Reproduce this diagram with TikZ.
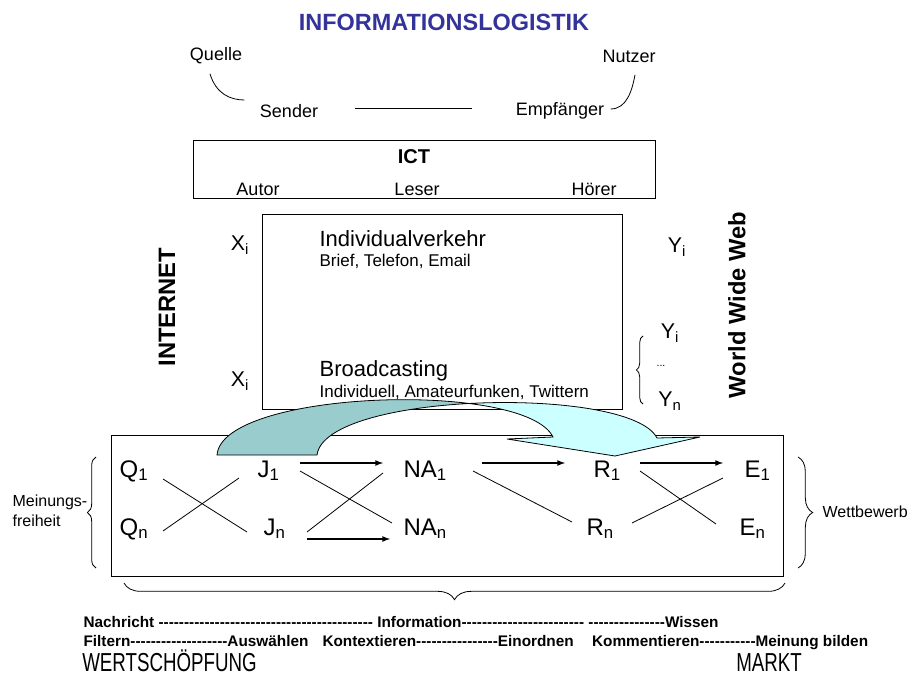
\documentclass[tikz,border=0pt]{standalone}
\usepackage{fontspec}
\setmainfont{Liberation Sans}
\newfontfamily\narrowfont[FakeStretch=0.72]{Liberation Sans}
\usetikzlibrary{arrows}
\usetikzlibrary{calc}
\usetikzlibrary{positioning}
\usetikzlibrary{intersections}
\usetikzlibrary{decorations.pathreplacing}
\definecolor{titleblue}{RGB}{51,51,153}
\definecolor{arrowteal}{RGB}{153,204,204}
\definecolor{arrowcyan}{RGB}{204,255,255}
\newcommand\dashrun[1]{\foreach \k in {1,...,#1}{\mbox{-}}}

\begin{document}
\begin{tikzpicture}[x=0.75pt, y=-0.75pt,
    every node/.style={inner sep=1pt},
    word/.style={font=\fontsize{13.5}{16}\selectfont},
    var/.style={font=\fontsize{16}{19}\selectfont},
    mainword/.style={font=\fontsize{16.5}{19}\selectfont, anchor=base west},
    subword/.style={font=\fontsize{12.75}{15}\selectfont, anchor=base west},
    sym/.style={font=\fontsize{18}{21}\selectfont, anchor=base west},
    side/.style={font=\bfseries\fontsize{17.8}{20}\selectfont, rotate=90},
    note/.style={font=\fontsize{12}{15}\selectfont, align=left},
    footline/.style={font=\bfseries\fontsize{11.5}{14}\selectfont, anchor=base west},
    bigfoot/.style={font=\narrowfont\fontsize{19.5}{23}\selectfont, anchor=base west, inner sep=0pt},
    frame/.style={draw, line width=0.7pt, minimum width=#1},
    link/.style={line width=0.6pt},
    flow/.style={-latex, line width=1pt},
    brace/.style={decorate, decoration={brace, amplitude=#1}, line width=0.6pt},
    brace/.default=8
  ]
  \useasboundingbox (0,0) rectangle (919,677);
  \coordinate (origin) at (0,0);
  \coordinate (corner) at (919,677);

  % title and sender / receiver
  \node[font=\bfseries\fontsize{17.6}{20}\selectfont, text=titleblue] (title) at (444,22) {INFORMATIONSLOGISTIK};
  \node[word] (quelle) at (216,56) {Quelle};
  \node[word] (nutzer) at (629,56) {Nutzer};
  \node[word] (sender) at (289,111) {Sender};
  \node[word] (empf) at (560,111) {Empfänger};
  \draw[link] ($(quelle.south)+(-6,8)$) .. controls +(6,20) and +(-14,0) .. ($(sender.west)+(-14,-11)$);
  \draw[link] ($(empf.east)+(5,-2)$) .. controls +(16,0) and +(-3,16) .. ($(nutzer.south)+(6,11)$);
  \draw[link] ($(sender.east)+(35,-3)$) -- ($(empf.west)+(-42,-3)$);

  % ICT
  \node[frame=346.5pt, minimum height=43.5pt] (ictbox) at (424,169) {};
  \node[font=\bfseries\fontsize{15}{18}\selectfont] (ict) at (414,157) {ICT};
  \node[word] (autor) at (258,189) {Autor};
  \node[word] (leser) at (417,189) {Leser};
  \node[word] (hoerer) at (594,189) {Hörer};

  % middle box
  \node[frame=270pt, minimum height=146.25pt] (netbox) at (442,311.5) {};
  \node[mainword] (indiv) at (318,246) {Individualverkehr};
  \node[subword] (brief) at (318,266) {Brief, Telefon, Email};
  \node[mainword] (broad) at (318,376) {Broadcasting};
  \node[subword] (twitter) at (318,397) {Individuell, Amateurfunken, Twittern};
  \node[var] (x1) at (240,245) {X\textsubscript{i}};
  \node[var] (x2) at (240,381) {X\textsubscript{i}};
  \node[var] (y1) at (677,247) {Y\textsubscript{i}};
  \node[var] (y2) at (670,333) {Y\textsubscript{i}};
  \node[font=\fontsize{8}{9}\selectfont] (ydots) at (661,366) {...};
  \node[var] (yn) at (670,401) {Y\textsubscript{n}};
  \draw[brace=5pt] (643,404) -- (643,336);
  \node[side] (internet) at (167,307) {INTERNET};
  \node[side] (www) at (737,305) {World Wide Web};

  % value chain
  \node[frame=504pt, minimum height=105.75pt] (chain) at (447,505.5) {};
  \node[sym] (Q1) at (118,477) {Q\textsubscript{1}};
  \node[sym] (Qn) at (118,535) {Q\textsubscript{n}};
  \node[sym] (J1) at (256,477) {J\textsubscript{1}};
  \node[sym] (Jn) at (262,535) {J\textsubscript{n}};
  \node[sym] (NA1) at (402,477) {NA\textsubscript{1}};
  \node[sym] (NAn) at (402,535) {NA\textsubscript{n}};
  \node[sym] (R1) at (592,477) {R\textsubscript{1}};
  \node[sym] (Rn) at (585,535) {R\textsubscript{n}};
  \node[sym] (E1) at (743,477) {E\textsubscript{1}};
  \node[sym] (En) at (738,535) {E\textsubscript{n}};

  \draw[link] ($(Q1.base west)+(45,2)$) -- ($(Jn.base west)+(-15,-3)$);
  \draw[link] ($(Qn.base west)+(45,-4)$) -- ($(J1.base west)+(-17,1)$);
  \draw[link] ($(J1.base west)+(44,-6)$) -- ($(NAn.base west)+(-10,-12)$);
  \draw[link] ($(Jn.base west)+(45,-3)$) -- ($(NA1.base west)+(-19,-4)$);
  \draw[link] ($(NA1.base west)+(71,-6)$) -- ($(Rn.base west)+(-13,-13)$);
  \draw[link] ($(R1.base west)+(48,-6)$) -- ($(En.base west)+(-22,-11)$);
  \draw[link] ($(Rn.base west)+(47,-12)$) -- ($(E1.base west)+(-20,1)$);
  \draw[flow] ($(J1.base west)+(44,-14)$) -- ($(NA1.base west)+(-19,-14)$);
  \draw[flow] ($(Jn.base west)+(45,4)$) -- ($(NAn.base west)+(-12,4)$);
  \draw[flow] ($(NA1.base west)+(80,-14)$) -- ($(R1.base west)+(-27,-14)$);
  \draw[flow] ($(R1.base west)+(48,-14)$) -- ($(E1.base west)+(-20,-14)$);

  % curved arrow
  \def\bigarrow{(217,455) .. controls (222,390) and (525,380) .. (553,437) -- (507,439) -- (615,456) -- (700,437) -- (657,438) .. controls (630,385) and (325,392) .. (317,455) -- cycle}
  \path[name path=arcA] (217,455) .. controls (222,390) and (525,380) .. (553,437);
  \path[name path=arcB] (317,455) .. controls (325,392) and (630,385) .. (657,438);
  \path[name intersections={of=arcA and arcB, by=cross}];
  \begin{scope}
    \clip (cross |- origin) rectangle (corner);
    \fill[arrowcyan] \bigarrow;
  \end{scope}
  \begin{scope}
    \clip (origin) rectangle (cross |- corner);
    \fill[arrowteal] \bigarrow;
  \end{scope}
  \draw[link] \bigarrow;

  % braces
  \draw[brace=6.5pt] (96,568) -- (96,457);
  \node[note, anchor=west] (freiheit) at (11,511) {Meinungs-\\freiheit};
  \draw[brace=11pt] (798,457) -- (798,568);
  \node[note, anchor=west] (wettbewerb) at (821,512) {Wettbewerb};
  \draw[brace=12.5pt] (785,583) -- (124,583);

  % bottom lines
  \node[footline] (line1) at (82,627) {Nachricht \dashrun{42} Information\dashrun{24} \dashrun{15}Wissen};
  \node[footline] (line2) at (82,646) {Filtern\dashrun{19}Auswählen\hspace{0.92em}Kontextieren\dashrun{16}Einordnen\hspace{1.2em}Kommentieren\dashrun{11}Meinung bilden};
  \node[bigfoot] (wert) at (82,671) {WERTSCHÖPFUNG};
  \node[bigfoot] (markt) at (736,671) {MARKT};
\end{tikzpicture}
\end{document}
